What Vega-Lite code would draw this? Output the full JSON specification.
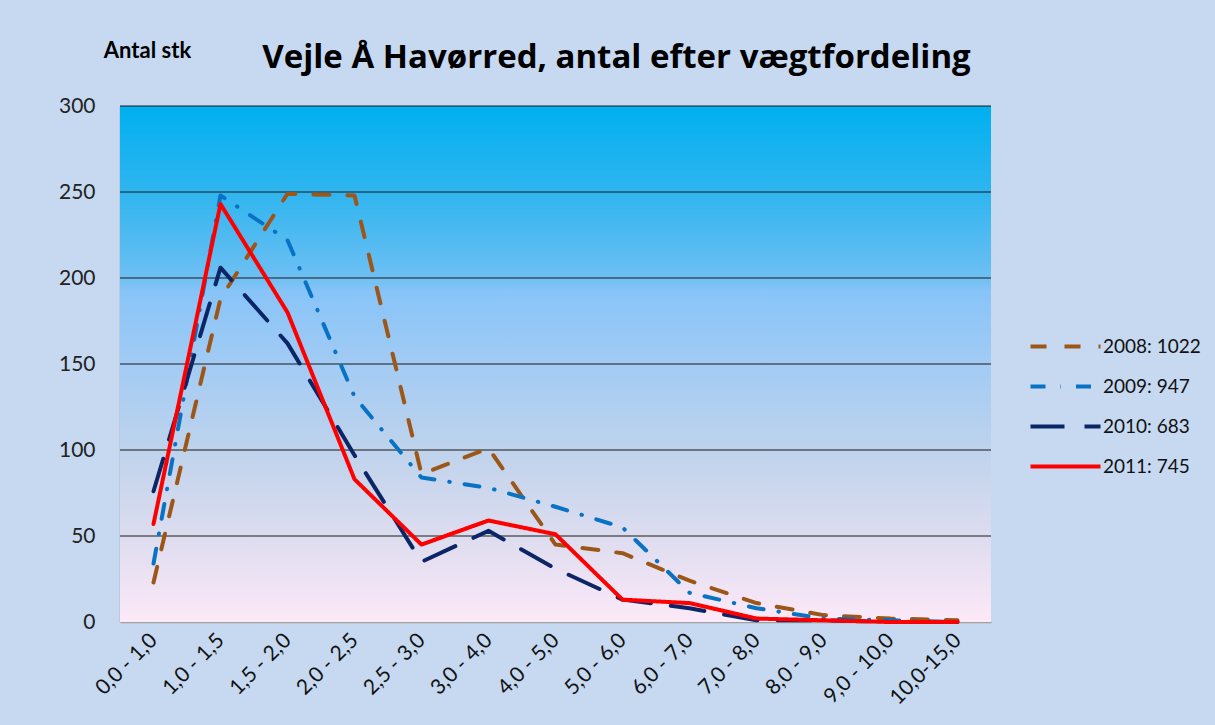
{
  "$schema": "https://vega.github.io/schema/vega-lite/v6.json",
  "autosize": "none",
  "width": 871,
  "height": 516,
  "padding": {"left": 120, "top": 106, "right": 224, "bottom": 103},
  "background": "#c6d9f0",
  "config": {
    "font": "Lato",
    "view": {"stroke": null}
  },
  "title": {
    "text": "Vejle Å Havørred, antal efter vægtfordeling",
    "font": "Open Sans",
    "fontSize": 33,
    "fontWeight": "bold",
    "color": "#000000",
    "anchor": "middle",
    "frame": "group",
    "dx": 61,
    "offset": -36
  },
  "datasets": {
    "grid": [{"v": 50}, {"v": 100}, {"v": 150}, {"v": 200}, {"v": 250}, {"v": 300}],
    "bg": [{"lo": 0, "hi": 300}],
    "fish": [
      {"vaegt": "0,0 - 1,0", "serie": "2008: 1022", "antal": 23},
      {"vaegt": "1,0 - 1,5", "serie": "2008: 1022", "antal": 188},
      {"vaegt": "1,5 - 2,0", "serie": "2008: 1022", "antal": 249},
      {"vaegt": "2,0 - 2,5", "serie": "2008: 1022", "antal": 248},
      {"vaegt": "2,5 - 3,0", "serie": "2008: 1022", "antal": 86},
      {"vaegt": "3,0 - 4,0", "serie": "2008: 1022", "antal": 101},
      {"vaegt": "4,0 - 5,0", "serie": "2008: 1022", "antal": 45},
      {"vaegt": "5,0 - 6,0", "serie": "2008: 1022", "antal": 40},
      {"vaegt": "6,0 - 7,0", "serie": "2008: 1022", "antal": 24},
      {"vaegt": "7,0 - 8,0", "serie": "2008: 1022", "antal": 11},
      {"vaegt": "8,0 - 9,0", "serie": "2008: 1022", "antal": 4},
      {"vaegt": "9,0 - 10,0", "serie": "2008: 1022", "antal": 2},
      {"vaegt": "10,0-15,0", "serie": "2008: 1022", "antal": 1},
      {"vaegt": "0,0 - 1,0", "serie": "2009: 947", "antal": 34},
      {"vaegt": "1,0 - 1,5", "serie": "2009: 947", "antal": 248},
      {"vaegt": "1,5 - 2,0", "serie": "2009: 947", "antal": 222},
      {"vaegt": "2,0 - 2,5", "serie": "2009: 947", "antal": 131},
      {"vaegt": "2,5 - 3,0", "serie": "2009: 947", "antal": 84},
      {"vaegt": "3,0 - 4,0", "serie": "2009: 947", "antal": 78},
      {"vaegt": "4,0 - 5,0", "serie": "2009: 947", "antal": 67},
      {"vaegt": "5,0 - 6,0", "serie": "2009: 947", "antal": 55},
      {"vaegt": "6,0 - 7,0", "serie": "2009: 947", "antal": 17},
      {"vaegt": "7,0 - 8,0", "serie": "2009: 947", "antal": 8},
      {"vaegt": "8,0 - 9,0", "serie": "2009: 947", "antal": 2},
      {"vaegt": "9,0 - 10,0", "serie": "2009: 947", "antal": 1},
      {"vaegt": "10,0-15,0", "serie": "2009: 947", "antal": 0},
      {"vaegt": "0,0 - 1,0", "serie": "2010: 683", "antal": 76},
      {"vaegt": "1,0 - 1,5", "serie": "2010: 683", "antal": 206},
      {"vaegt": "1,5 - 2,0", "serie": "2010: 683", "antal": 162},
      {"vaegt": "2,0 - 2,5", "serie": "2010: 683", "antal": 97},
      {"vaegt": "2,5 - 3,0", "serie": "2010: 683", "antal": 35},
      {"vaegt": "3,0 - 4,0", "serie": "2010: 683", "antal": 53},
      {"vaegt": "4,0 - 5,0", "serie": "2010: 683", "antal": 31},
      {"vaegt": "5,0 - 6,0", "serie": "2010: 683", "antal": 13},
      {"vaegt": "6,0 - 7,0", "serie": "2010: 683", "antal": 8},
      {"vaegt": "7,0 - 8,0", "serie": "2010: 683", "antal": 1},
      {"vaegt": "8,0 - 9,0", "serie": "2010: 683", "antal": 1},
      {"vaegt": "9,0 - 10,0", "serie": "2010: 683", "antal": 0},
      {"vaegt": "10,0-15,0", "serie": "2010: 683", "antal": 0},
      {"vaegt": "0,0 - 1,0", "serie": "2011: 745", "antal": 57},
      {"vaegt": "1,0 - 1,5", "serie": "2011: 745", "antal": 243},
      {"vaegt": "1,5 - 2,0", "serie": "2011: 745", "antal": 180},
      {"vaegt": "2,0 - 2,5", "serie": "2011: 745", "antal": 83},
      {"vaegt": "2,5 - 3,0", "serie": "2011: 745", "antal": 45},
      {"vaegt": "3,0 - 4,0", "serie": "2011: 745", "antal": 59},
      {"vaegt": "4,0 - 5,0", "serie": "2011: 745", "antal": 51},
      {"vaegt": "5,0 - 6,0", "serie": "2011: 745", "antal": 13},
      {"vaegt": "6,0 - 7,0", "serie": "2011: 745", "antal": 11},
      {"vaegt": "7,0 - 8,0", "serie": "2011: 745", "antal": 2},
      {"vaegt": "8,0 - 9,0", "serie": "2011: 745", "antal": 1},
      {"vaegt": "9,0 - 10,0", "serie": "2011: 745", "antal": 0},
      {"vaegt": "10,0-15,0", "serie": "2011: 745", "antal": 0}
    ]
  },
  "layer": [
    {
      "data": {"name": "bg"},
      "mark": {
        "type": "rect",
        "color": {
          "gradient": "linear",
          "x1": 0, "y1": 0, "x2": 0, "y2": 1,
          "stops": [
            {"offset": 0, "color": "#00b0f0"},
            {"offset": 0.17, "color": "#30b5ef"},
            {"offset": 0.33, "color": "#6cbff3"},
            {"offset": 0.36, "color": "#88c4f8"},
            {"offset": 0.5, "color": "#a2cbf4"},
            {"offset": 0.67, "color": "#bfd3ec"},
            {"offset": 0.83, "color": "#dcdcef"},
            {"offset": 1, "color": "#fde9f8"}
          ]
        }
      },
      "encoding": {
        "y": {"field": "lo", "type": "quantitative", "scale": {"domain": [0, 300]}},
        "y2": {"field": "hi"}
      }
    },
    {
      "data": {"name": "grid"},
      "mark": {"type": "rule", "color": "#1a1a1a", "strokeWidth": 1.2},
      "encoding": {
        "y": {"field": "v", "type": "quantitative"}
      }
    },
    {
      "data": {"name": "fish"},
      "mark": {"type": "line", "strokeCap": "round", "strokeJoin": "round"},
      "encoding": {
        "x": {
          "field": "vaegt",
          "type": "ordinal",
          "scale": {"type": "point", "padding": 0.5},
          "sort": ["0,0 - 1,0", "1,0 - 1,5", "1,5 - 2,0", "2,0 - 2,5", "2,5 - 3,0", "3,0 - 4,0", "4,0 - 5,0", "5,0 - 6,0", "6,0 - 7,0", "7,0 - 8,0", "8,0 - 9,0", "9,0 - 10,0", "10,0-15,0"],
          "axis": {
            "title": null,
            "labelAngle": -45,
            "labelAlign": "right",
            "labelBaseline": "middle",
            "labelFontSize": 21,
            "labelFont": "Lato",
            "labelColor": "#111111",
            "labelPadding": 15,
            "ticks": false,
            "domainColor": "#a0a0a0",
            "domainWidth": 1.5,
            "grid": false
          }
        },
        "y": {
          "field": "antal",
          "type": "quantitative",
          "scale": {"domain": [0, 300]},
          "axis": {
            "values": [0, 50, 100, 150, 200, 250, 300],
            "title": "Antal stk",
            "titleAngle": 0,
            "titleX": 27,
            "titleY": -49,
            "titleAlign": "center",
            "titleBaseline": "alphabetic",
            "titleFont": "Lato",
            "titleFontSize": 22,
            "titleFontWeight": "bold",
            "titleColor": "#000000",
            "labelFontSize": 21,
            "labelFont": "Lato",
            "labelColor": "#222222",
            "labelPadding": 25,
            "ticks": false,
            "grid": false,
            "domainColor": "#a0a0a0",
            "domainWidth": 1.5
          }
        },
        "color": {
          "field": "serie",
          "type": "nominal",
          "scale": {
            "domain": ["2008: 1022", "2009: 947", "2010: 683", "2011: 745"],
            "range": ["#9c5718", "#0873c4", "#0b2566", "#ff0000"]
          },
          "legend": {
            "title": null,
            "orient": "none",
            "legendX": 926,
            "legendY": 221,
            "symbolType": "M-2,0H2",
            "symbolSize": 1225,
            "labelFontSize": 19,
            "labelFont": "Lato",
            "labelColor": "#111111",
            "labelOffset": 18,
            "rowPadding": 10,
            "padding": 0
          }
        },
        "strokeDash": {
          "field": "serie",
          "type": "nominal",
          "scale": {
            "domain": ["2008: 1022", "2009: 947", "2010: 683", "2011: 745"],
            "range": [[16, 18], [15, 15, 0.5, 15], [34, 20], [1, 0]]
          },
          "legend": null
        },
        "strokeWidth": {
          "field": "serie",
          "type": "nominal",
          "scale": {
            "domain": ["2008: 1022", "2009: 947", "2010: 683", "2011: 745"],
            "range": [4, 4, 4.5, 7]
          },
          "legend": null
        }
      }
    }
  ]
}
